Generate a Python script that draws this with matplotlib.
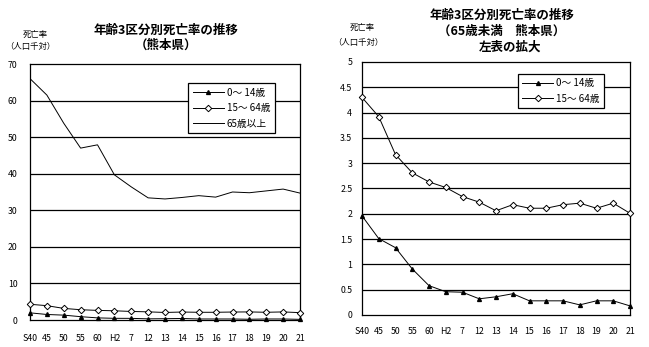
import matplotlib
matplotlib.use("Agg")
import matplotlib.pyplot as plt

plt.rcParams['font.family'] = ['Noto Sans CJK JP', 'DejaVu Sans']

years = ["S40", "45", "50", "55", "60", "H2", "7", "12", "13", "14", "15", "16", "17", "18", "19", "20", "21"]
age_0_14 = [1.96, 1.51, 1.33, 0.91, 0.58, 0.46, 0.45, 0.32, 0.36, 0.42, 0.28, 0.28, 0.28, 0.20, 0.28, 0.28, 0.18]
age_15_64 = [4.30, 3.92, 3.17, 2.81, 2.63, 2.52, 2.34, 2.23, 2.06, 2.18, 2.11, 2.11, 2.18, 2.21, 2.11, 2.21, 2.01]
age_65_up = [66.0, 61.5, 53.8, 47.0, 47.9, 39.7, 36.4, 33.4, 33.1, 33.5, 34.0, 33.6, 35.0, 34.8, 35.3, 35.8, 34.7]

label_0_14 = "0～ 14歳"
label_15_64 = "15～ 64歳"
label_65 = "65歳以上"

W, H = 649, 347
fig = plt.figure(figsize=(W / 100, H / 100), dpi=100)


def fx(px):
    return px / W


def fy(py):
    return 1 - py / H


def style_axes(ax, yticks, ylabels, xpad, ypad):
    x = list(range(len(years)))
    ax.set_xlim(0, len(years) - 1)
    ax.set_xticks(x)
    ax.set_xticklabels(years, fontsize=6.3)
    ax.set_yticks(yticks)
    ax.set_yticklabels(ylabels, fontsize=6.3)
    ax.set_ylim(yticks[0], yticks[-1])
    ax.tick_params(axis='both', length=0)
    ax.tick_params(axis='x', pad=xpad)
    ax.tick_params(axis='y', pad=ypad)
    for y in yticks[1:-1]:
        ax.axhline(y, color='black', lw=0.9, zorder=1)
    for s in ax.spines.values():
        s.set_color('black')
        s.set_linewidth(0.9)


tri = dict(color='black', lw=0.7, marker='^', ms=2.8, mfc='black', mec='black')
dia = dict(color='black', lw=0.7, marker='D', ms=3.3, mfc='white', mec='black', mew=0.7)

# Left chart
axL = fig.add_axes([fx(30), fy(320), fx(270), 256 / H])
xs = list(range(len(years)))
axL.plot(xs, age_0_14, label=label_0_14, zorder=3, clip_on=False, **tri)
axL.plot(xs, age_15_64, label=label_15_64, zorder=3, clip_on=False, **dia)
axL.plot(xs, age_65_up, color='black', lw=0.7, label=label_65, zorder=3)
lt = [0, 10, 20, 30, 40, 50, 60, 70]
style_axes(axL, lt, [str(v) for v in lt], 10, 9)
leg = axL.legend(loc='upper left', bbox_to_anchor=(fx(188), fy(83)), bbox_transform=fig.transFigure,
                 fontsize=7, frameon=True, fancybox=False, edgecolor='black', framealpha=1,
                 handlelength=3.2, borderpad=0.5, labelspacing=0.55, handletextpad=0.3, borderaxespad=0)
leg.get_frame().set_linewidth(0.9)

fig.text(fx(166), fy(30), "年齢3区分別死亡率の推移", ha='center', va='center', fontsize=9, fontweight='bold')
fig.text(fx(166), fy(45), "（熊本県）", ha='center', va='center', fontsize=9, fontweight='bold')
fig.text(fx(35), fy(34), "死亡率", ha='center', va='center', fontsize=6)
fig.text(fx(30), fy(47), "（人口千対）", ha='center', va='center', fontsize=6)

# Right chart
axR = fig.add_axes([fx(362), fy(315), fx(268), 253 / H])
axR.plot(xs, age_0_14, label=label_0_14, zorder=3, clip_on=False, **tri)
axR.plot(xs, age_15_64, label=label_15_64, zorder=3, clip_on=False, **dia)
rt = [0, 0.5, 1, 1.5, 2, 2.5, 3, 3.5, 4, 4.5, 5]
style_axes(axR, rt, ["0", "0.5", "1", "1.5", "2", "2.5", "3", "3.5", "4", "4.5", "5"], 9, 7)
leg2 = axR.legend(loc='upper left', bbox_to_anchor=(fx(518), fy(74)), bbox_transform=fig.transFigure,
                  fontsize=7, frameon=True, fancybox=False, edgecolor='black', framealpha=1,
                  handlelength=3.2, borderpad=0.45, labelspacing=0.55, handletextpad=0.3, borderaxespad=0)
leg2.get_frame().set_linewidth(0.9)

fig.text(fx(502), fy(15), "年齢3区分別死亡率の推移", ha='center', va='center', fontsize=9, fontweight='bold')
fig.text(fx(502), fy(31), "（65歳未満　熊本県）", ha='center', va='center', fontsize=9, fontweight='bold')
fig.text(fx(510), fy(47), "左表の拡大", ha='center', va='center', fontsize=9, fontweight='bold')
fig.text(fx(362), fy(27), "死亡率", ha='center', va='center', fontsize=6)
fig.text(fx(358), fy(42), "（人口千対）", ha='center', va='center', fontsize=6)

fig.savefig("out.png", dpi=100)
